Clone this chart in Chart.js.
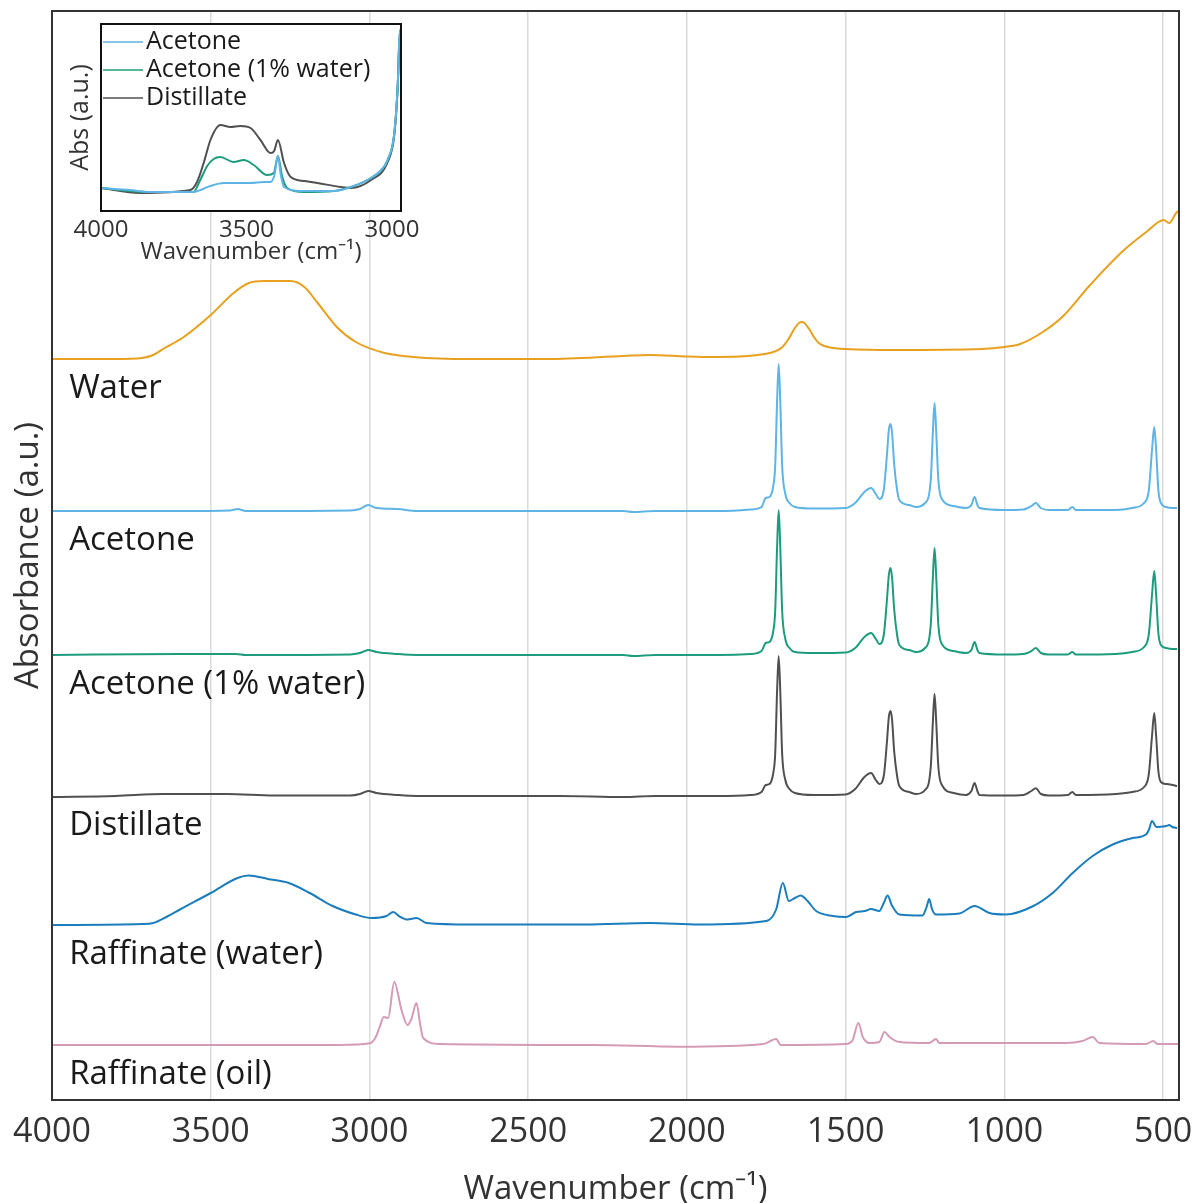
<!DOCTYPE html>
<html>
<head>
<meta charset="utf-8">
<script src="https://cdn.jsdelivr.net/npm/chart.js@4.4.0/dist/chart.umd.min.js"></script>
<style>
html, body { margin: 0; padding: 0; background: #fff; }
#wrap { position: relative; width: 1199px; height: 1203px; }
#main { position: absolute; left: 0; top: 0; }
#inset { position: absolute; left: 55px; top: 14px; }
</style>
</head>
<body>
<div id="wrap">
  <canvas id="main" width="1199" height="1203"></canvas>
  <canvas id="inset" width="375" height="258"></canvas>
</div>
<script>
// spectra: [wavenumber, absorbance above own baseline]
const water = [[4000,0],[3800,0],[3717,0.01],[3681,0.04],[3645,0.11],[3585,0.22],[3500,0.44],[3428,0.66],[3380,0.76],[3332,0.78],[3248,0.78],[3205,0.72],[3163,0.56],[3103,0.32],[3043,0.17],[2952,0.06],[2862,0.02],[2681,0],[2440,0],[2200,0.03],[2118,0.04],[2000,0.025],[1897,0.02],[1754,0.05],[1720,0.08],[1699,0.12],[1680,0.2],[1660,0.31],[1645,0.365],[1638,0.37],[1630,0.36],[1615,0.3],[1600,0.22],[1585,0.16],[1567,0.13],[1540,0.11],[1501,0.1],[1347,0.09],[1071,0.1],[1000,0.12],[950,0.15],[884,0.26],[818,0.42],[730,0.74],[630,1.07],[553,1.27],[498,1.39],[481,1.36],[459,1.46],[452,1.48]];

const acetone = [[4000,0],[3600,0],[3440,0.005],[3415,0.02],[3390,0],[3060,0.005],[3030,0.02],[3004,0.06],[2978,0.03],[2912,0.02],[2850,0],[2200,0],[2170,-0.01],[2100,0],[1900,0],[1800,0.015],[1765,0.04],[1752,0.13],[1740,0.14],[1728,0.25],[1722,0.45],[1716,1.1],[1711,1.47],[1706,1.1],[1700,0.45],[1690,0.17],[1677,0.08],[1660,0.04],[1600,0.025],[1500,0.03],[1470,0.08],[1441,0.19],[1420,0.23],[1405,0.17],[1394,0.12],[1380,0.21],[1370,0.56],[1364,0.81],[1359,0.87],[1354,0.79],[1347,0.46],[1338,0.21],[1331,0.11],[1300,0.06],[1278,0.04],[1250,0.08],[1232,0.31],[1225,0.81],[1220,1.08],[1215,0.81],[1208,0.31],[1195,0.11],[1160,0.05],[1121,0.03],[1104,0.06],[1094,0.14],[1085,0.06],[1079,0.03],[1000,0.01],[940,0.015],[915,0.05],[901,0.08],[885,0.03],[859,0.01],[800,0.01],[786,0.04],[775,0.01],[650,0.01],[597,0.03],[560,0.08],[545,0.21],[535,0.61],[528,0.84],[522,0.61],[515,0.21],[507,0.08],[491,0.04],[470,0.03],[456,0.03]];

const acetoneWet = [[4000,0],[3600,0.01],[3420,0.01],[3390,0],[3060,0.005],[3030,0.02],[3004,0.05],[2978,0.03],[2912,0.01],[2850,0],[2200,0],[2170,-0.01],[2100,0],[1900,0],[1800,0.01],[1765,0.04],[1752,0.12],[1740,0.13],[1728,0.24],[1722,0.44],[1716,1.08],[1711,1.45],[1706,1.08],[1700,0.44],[1690,0.16],[1677,0.07],[1660,0.03],[1600,0.02],[1500,0.025],[1470,0.07],[1441,0.18],[1420,0.22],[1405,0.16],[1394,0.11],[1380,0.2],[1370,0.55],[1364,0.8],[1359,0.87],[1354,0.78],[1347,0.45],[1338,0.2],[1331,0.1],[1300,0.05],[1278,0.03],[1250,0.07],[1232,0.3],[1225,0.8],[1220,1.07],[1215,0.8],[1208,0.3],[1195,0.1],[1160,0.04],[1121,0.02],[1104,0.05],[1094,0.13],[1085,0.05],[1079,0.02],[1000,0.005],[940,0.01],[915,0.04],[901,0.07],[885,0.02],[859,0.005],[800,0.005],[786,0.03],[775,0.005],[650,0.01],[597,0.03],[560,0.08],[545,0.21],[535,0.6],[528,0.84],[522,0.6],[515,0.22],[507,0.1],[491,0.07],[470,0.06],[456,0.06]];

const distillate = [[4000,-0.01],[3800,0],[3650,0.02],[3450,0.02],[3300,0.005],[3060,0.005],[3030,0.02],[3004,0.05],[2978,0.03],[2912,0.01],[2850,0],[2400,0],[2200,-0.01],[2100,0],[1900,0],[1800,0.01],[1765,0.04],[1752,0.11],[1740,0.12],[1728,0.23],[1722,0.42],[1716,1.05],[1711,1.4],[1706,1.05],[1700,0.42],[1690,0.16],[1677,0.07],[1660,0.03],[1600,0.01],[1500,0.015],[1470,0.07],[1441,0.19],[1420,0.23],[1405,0.16],[1394,0.12],[1380,0.2],[1370,0.54],[1364,0.79],[1359,0.85],[1354,0.77],[1347,0.44],[1338,0.2],[1331,0.1],[1300,0.04],[1278,0.02],[1250,0.06],[1232,0.29],[1225,0.76],[1220,1.02],[1215,0.76],[1208,0.29],[1195,0.1],[1160,0.03],[1121,0.01],[1104,0.05],[1094,0.13],[1085,0.05],[1079,0.01],[1000,0.005],[940,0.01],[915,0.05],[901,0.077],[885,0.02],[859,0.005],[800,0.01],[786,0.04],[775,0.01],[650,0.02],[597,0.04],[560,0.09],[545,0.22],[535,0.6],[528,0.83],[522,0.6],[515,0.25],[507,0.14],[491,0.12],[470,0.11],[456,0.1]];

const raffWater = [[4000,0],[3717,0.01],[3681,0.02],[3640,0.08],[3597,0.155],[3500,0.32],[3416,0.47],[3380,0.495],[3320,0.46],[3254,0.42],[3188,0.32],[3116,0.19],[3043,0.105],[2994,0.07],[2946,0.09],[2925,0.13],[2905,0.085],[2880,0.055],[2852,0.07],[2820,0.02],[2681,0.005],[2320,0.005],[2118,0.02],[1960,0.005],[1750,0.04],[1719,0.155],[1698,0.42],[1679,0.24],[1660,0.27],[1642,0.295],[1620,0.24],[1593,0.14],[1540,0.09],[1498,0.08],[1467,0.13],[1440,0.14],[1420,0.16],[1394,0.14],[1380,0.22],[1368,0.295],[1355,0.2],[1331,0.105],[1258,0.095],[1245,0.18],[1237,0.26],[1228,0.16],[1216,0.105],[1142,0.115],[1094,0.19],[1047,0.12],[995,0.105],[912,0.185],[848,0.32],[785,0.52],[722,0.69],[659,0.805],[596,0.87],[554,0.905],[545,0.95],[535,1.04],[521,0.98],[503,0.985],[490,0.99],[481,1.0],[471,0.98],[456,0.97]];

const raffOil = [[4000,0],[3094,0],[2999,0.017],[2980,0.08],[2968,0.18],[2955,0.28],[2941,0.27],[2922,0.63],[2899,0.35],[2880,0.2],[2868,0.26],[2852,0.42],[2840,0.2],[2831,0.07],[2779,0.01],[2300,0],[2023,-0.017],[1760,0.01],[1719,0.06],[1705,0],[1500,0.01],[1478,0.05],[1460,0.22],[1446,0.08],[1425,0.02],[1394,0.03],[1378,0.13],[1362,0.08],[1331,0.03],[1237,0.02],[1215,0.06],[1205,0.02],[1016,0.02],[806,0.02],[754,0.04],[722,0.08],[701,0.02],[554,0.01],[531,0.04],[518,0.01],[453,0.01]];

// inset, O-H region
const insetAcetone = [[4000,0.23],[3900,0.21],[3831,0.19],[3682,0.19],[3650,0.22],[3624,0.25],[3578,0.28],[3486,0.28],[3440,0.29],[3417,0.29],[3404,0.36],[3392,0.55],[3382,0.36],[3371,0.24],[3314,0.2],[3199,0.2],[3141,0.24],[3072,0.33],[3040,0.4],[3015,0.51],[2992,0.78],[2980,1.28],[2975,1.71],[2971,1.82]];
const insetWet = [[4000,0.23],[3900,0.2],[3831,0.19],[3682,0.19],[3659,0.31],[3635,0.45],[3613,0.52],[3590,0.54],[3544,0.49],[3509,0.51],[3475,0.46],[3429,0.36],[3406,0.38],[3392,0.55],[3377,0.34],[3360,0.23],[3302,0.19],[3199,0.2],[3141,0.24],[3072,0.33],[3040,0.4],[3015,0.51],[2992,0.78],[2980,1.28],[2975,1.7],[2971,1.81]];
const insetDistillate = [[4000,0.23],[3866,0.18],[3693,0.21],[3670,0.29],[3645,0.5],[3624,0.71],[3590,0.86],[3555,0.84],[3521,0.85],[3486,0.83],[3452,0.71],[3417,0.58],[3405,0.6],[3392,0.71],[3371,0.48],[3348,0.34],[3300,0.3],[3256,0.28],[3176,0.24],[3141,0.23],[3072,0.31],[3015,0.49],[2992,0.76],[2980,1.26],[2975,1.66],[2971,1.78]];

const names = ['Water', 'Acetone', 'Acetone (1% water)', 'Distillate', 'Raffinate (water)', 'Raffinate (oil)'];
const offsets = [7.41, 5.89, 4.45, 3.04, 1.75, 0.55];
const colors = ['#E8A11E', '#5DB4E5', '#1C9C7C', '#505050', '#1B7DBE', '#D39BB5'];
const xTicks = [4000, 3500, 3000, 2500, 2000, 1500, 1000, 500];
const insetTicks = [4000, 3500, 3000];

const FONT = 'Open Sans';

function toXY(pts, off) {
    return pts.map(function (p) { return {x: p[0], y: p[1] + off}; });
}

// frame round the plot area
const boxPlugin = {
    id: 'box',
    afterDraw: function (chart) {
        const a = chart.chartArea, ctx = chart.ctx;
        ctx.save();
        ctx.strokeStyle = chart.options.boxColor || '#333';
        ctx.lineWidth = 2;
        ctx.strokeRect(a.left, a.top, a.right - a.left, a.bottom - a.top);
        ctx.restore();
    }
};

// sample names under each trace
const nameLabels = {
    id: 'nameLabels',
    afterDatasetsDraw: function (chart) {
        const ctx = chart.ctx, xs = chart.scales.x, ys = chart.scales.y;
        ctx.save();
        ctx.font = '33px "' + FONT + '"';
        ctx.fillStyle = '#1a1a1a';
        ctx.textBaseline = 'middle';
        ctx.textAlign = 'left';
        names.forEach(function (n, i) {
            ctx.fillText(n, xs.getPixelForValue(3946), ys.getPixelForValue(offsets[i] - 0.3));
        });
        ctx.restore();
    }
};

var mainChart = new Chart(document.getElementById('main'), {
    type: 'line',
    data: {
        datasets: names.map(function (n, i) {
            return {
                label: n,
                data: toXY([water, acetone, acetoneWet, distillate, raffWater, raffOil][i], offsets[i]),
                borderColor: colors[i],
                borderWidth: 2,
                fill: false
            };
        })
    },
    options: {
        responsive: false,
        animation: false,
        layout: {padding: {left: 9, right: 20, top: 11, bottom: 0}},
        elements: {point: {radius: 0}, line: {cubicInterpolationMode: 'monotone'}},
        plugins: {legend: {display: false}, tooltip: {enabled: false}},
        scales: {
            x: {
                type: 'linear',
                reverse: true,
                min: 450,
                max: 4000,
                afterBuildTicks: function (s) { s.ticks = xTicks.map(function (v) { return {value: v}; }); },
                afterFit: function (s) { s.paddingLeft = 0; s.paddingRight = 0; s.height = 103; },
                grid: {color: '#dadada', lineWidth: 1.5, drawTicks: false},
                border: {color: '#333', width: 2},
                ticks: {
                    padding: 12,
                    color: '#333',
                    font: {family: FONT, size: 34},
                    callback: function (v) { return String(v); }
                },
                title: {
                    display: true,
                    text: 'Wavenumber (cm\u207B\u00B9)',
                    color: '#333',
                    font: {family: FONT, size: 33, lineHeight: 0.8},
                    padding: {top: 0, bottom: 0}
                }
            },
            y: {
                min: 0,
                max: 10.89,
                afterFit: function (s) { s.width = 43; },
                ticks: {display: false},
                grid: {display: false, drawTicks: false},
                border: {color: '#333', width: 2},
                title: {
                    display: true,
                    text: 'Absorbance (a.u.)',
                    color: '#333',
                    font: {family: FONT, size: 33},
                    padding: {top: 0, bottom: 0}
                }
            }
        }
    },
    plugins: [boxPlugin, nameLabels]
});

// ---- inset ----
const insetNames = ['Acetone', 'Acetone (1% water)', 'Distillate'];
const insetColors = ['#5DB4E5', '#1C9C7C', '#505050'];

const whiteArea = {
    id: 'whiteArea',
    beforeDraw: function (chart) {
        const a = chart.chartArea, ctx = chart.ctx;
        ctx.save();
        ctx.fillStyle = '#fff';
        ctx.fillRect(a.left, a.top, a.right - a.left, a.bottom - a.top);
        ctx.restore();
    }
};

const insetLegend = {
    id: 'insetLegend',
    afterDraw: function (chart) {
        const a = chart.chartArea, ctx = chart.ctx;
        ctx.save();
        ctx.font = '25px "' + FONT + '"';
        ctx.textBaseline = 'middle';
        ctx.fillStyle = '#1a1a1a';
        insetNames.forEach(function (n, i) {
            const y = a.top + 18 + i * 28;
            ctx.strokeStyle = insetColors[i];
            ctx.lineWidth = 1.5;
            ctx.beginPath();
            ctx.moveTo(a.left + 2, y);
            ctx.lineTo(a.left + 42, y);
            ctx.stroke();
            ctx.fillText(n, a.left + 45, y);
        });
        ctx.restore();
    }
};

var insetChart = new Chart(document.getElementById('inset'), {
    type: 'line',
    data: {
        datasets: [
            {label: insetNames[0], data: toXY(insetAcetone, 0), borderColor: insetColors[0], borderWidth: 2},
            {label: insetNames[1], data: toXY(insetWet, 0), borderColor: insetColors[1], borderWidth: 2},
            {label: insetNames[2], data: toXY(insetDistillate, 0), borderColor: insetColors[2], borderWidth: 2}
        ]
    },
    options: {
        responsive: false,
        animation: false,
        boxColor: '#111',
        layout: {padding: {left: 10.7, right: 29, top: 10, bottom: 0}},
        elements: {point: {radius: 0}, line: {cubicInterpolationMode: 'monotone'}},
        plugins: {legend: {display: false}, tooltip: {enabled: false}},
        scales: {
            x: {
                type: 'linear',
                reverse: true,
                min: 2969,
                max: 4000,
                afterBuildTicks: function (s) { s.ticks = insetTicks.map(function (v) { return {value: v}; }); },
                afterFit: function (s) { s.paddingLeft = 0; s.paddingRight = 0; s.height = 61; },
                grid: {display: false, drawTicks: false},
                border: {color: '#111', width: 2},
                ticks: {
                    padding: 5,
                    color: '#333',
                    font: {family: FONT, size: 24},
                    callback: function (v) { return String(v); }
                },
                title: {
                    display: true,
                    text: 'Wavenumber (cm\u207B\u00B9)',
                    color: '#333',
                    font: {family: FONT, size: 24, lineHeight: 0.5},
                    padding: {top: 0, bottom: 14.3}
                }
            },
            y: {
                min: 0,
                max: 1.87,
                afterFit: function (s) { s.width = 35.3; },
                ticks: {display: false},
                grid: {display: false, drawTicks: false},
                border: {color: '#111', width: 2},
                title: {
                    display: true,
                    text: 'Abs (a.u.)',
                    color: '#333',
                    font: {family: FONT, size: 25},
                    padding: {top: 0, bottom: 0}
                }
            }
        }
    },
    plugins: [whiteArea, boxPlugin, insetLegend]
});
</script>
</body>
</html>
